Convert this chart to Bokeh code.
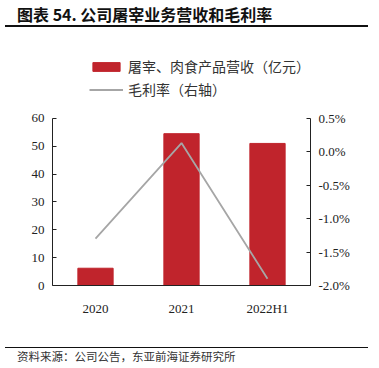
from bokeh.plotting import figure
from bokeh.models import (ColumnDataSource, FactorRange, Range1d, LinearAxis, Legend, LegendItem,
                          NumeralTickFormatter, FixedTicker, Div)
from bokeh.layouts import column
from bokeh.embed import file_html
from bokeh.resources import INLINE

categories = ["2020", "2021", "2022H1"]
revenue = [6.2, 54.5, 51.0]
margin = [-0.0130, 0.0013, -0.0190]
left_ticks = [0, 10, 20, 30, 40, 50, 60]
right_ticks = [-0.02, -0.015, -0.01, -0.005, 0.0, 0.005]

BAR = "#C0242C"
LINE = "#A6A6A6"
SERIF = "Liberation Serif"
CJK = "Noto Sans CJK SC"

src = ColumnDataSource(dict(cat=categories, rev=revenue, mar=margin))

p = figure(x_range=FactorRange(*categories), y_range=Range1d(0, 84),
           width=363, height=310, output_backend="svg", toolbar_location=None,
           min_border_left=52, min_border_right=53, min_border_top=19, min_border_bottom=57)
p.extra_y_ranges = {"pct": Range1d(-0.02, 0.015)}

r_bar = p.vbar(x="cat", top="rev", width=0.41, color=BAR, source=src)
r_line = p.line(x="cat", y="mar", y_range_name="pct", line_color=LINE, line_width=1.8, source=src)

p.outline_line_color = None
p.xgrid.visible = False
p.ygrid.visible = False
p.background_fill_color = "white"
p.border_fill_color = "white"

ax = p.yaxis[0]
ax.ticker = FixedTicker(ticks=left_ticks)
ax.bounds = (0, 60)
ax2 = LinearAxis(y_range_name="pct", ticker=FixedTicker(ticks=right_ticks),
                 formatter=NumeralTickFormatter(format="0.0%"), bounds=(-0.02, 0.005))
p.add_layout(ax2, "right")
for a in (ax, ax2):
    a.major_tick_in = 4
    a.major_tick_out = 0
    a.minor_tick_line_color = None
    a.axis_line_color = "#222222"
    a.major_tick_line_color = "#222222"
    a.major_label_text_font = SERIF
    a.major_label_text_font_size = "13px"
    a.major_label_text_color = "#222222"
    a.major_label_standoff = 8

xa = p.xaxis[0]
xa.major_tick_line_color = None
xa.axis_line_color = "#222222"
xa.major_label_text_font = SERIF
xa.major_label_text_font_size = "13px"
xa.major_label_text_color = "#222222"
xa.major_label_standoff = 9

legend = Legend(items=[LegendItem(label="屠宰、肉食产品营收（亿元）", renderers=[r_bar]),
                       LegendItem(label="毛利率（右轴）", renderers=[r_line])],
                location=(37, 186), orientation="vertical",
                label_text_font=CJK, label_text_font_size="14px", label_text_color="#333333",
                glyph_width=34, glyph_height=11, label_height=12, spacing=3,
                border_line_color=None, background_fill_alpha=0, padding=0, margin=0)
p.add_layout(legend, "center")

title = Div(text='<div style="padding-left:12px">图表 54. 公司屠宰业务营收和毛利率</div>',
            width=363, height=22,
            styles={"font-family": CJK, "font-weight": "bold", "font-size": "16px",
                    "color": "#111111", "border-bottom": "2px solid #111111",
                    "line-height": "19px", "box-sizing": "border-box",
                    "width": "363px", "height": "22px"})
source = Div(text='<div style="padding-left:12px">资料来源：公司公告，东亚前海证券研究所</div>',
             width=363, height=22,
             styles={"font-family": CJK, "font-size": "11.5px", "color": "#333333",
                     "border-top": "1.5px solid #111111",
                     "line-height": "17px", "box-sizing": "border-box", "width": "363px",
                     "height": "22px"})

layout = column(title, p, source, spacing=0)
open("out.html", "w").write(file_html(layout, INLINE))
